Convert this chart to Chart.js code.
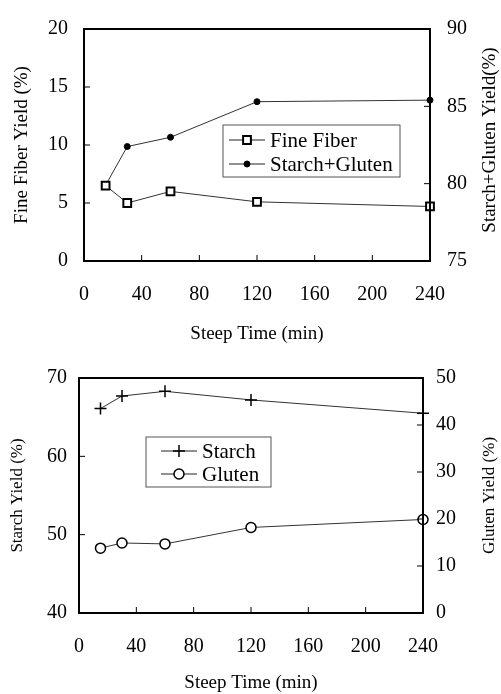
<!DOCTYPE html>
<html>
<head>
<meta charset="utf-8">
<script src="https://cdn.jsdelivr.net/npm/chart.js@4.4.0/dist/chart.umd.min.js"></script>
<style>
  body { margin: 0; background: white; }
  #wrap { position: relative; width: 501px; height: 694px; }
  #topchart { position: absolute; left: 0; top: 0; }
  #bottomchart { position: absolute; left: 0; top: 345px; }
</style>
</head>
<body>
<div id="wrap">
  <canvas id="topchart" width="501" height="345"></canvas>
  <canvas id="bottomchart" width="501" height="349"></canvas>
</div>
<script>
// data
const steepTimes = [15, 30, 60, 120, 240];
const fineFiber = [6.5, 5.0, 6.0, 5.1, 4.7];
const starchGluten = [79.9, 82.4, 83.0, 85.3, 85.4];
const starch = [66.1, 67.7, 68.3, 67.2, 65.5];
const gluten = [13.8, 14.9, 14.7, 18.2, 19.9];
const xTicks = [0, 40, 80, 120, 160, 200, 240];

const serif = "'Liberation Serif', 'Times New Roman', serif";
Chart.defaults.color = "#000";
Chart.defaults.font.family = serif;

function pts(ys) {
  return steepTimes.map((t, i) => ({ x: t, y: ys[i] }));
}

// frame around the plot + small inward tick marks
const framePlugin = {
  id: "frame",
  afterDatasetsDraw(chart) {
    const ctx = chart.ctx;
    const a = chart.chartArea;
    ctx.save();
    ctx.strokeStyle = "#000";
    ctx.lineWidth = 1;
    Object.values(chart.scales).forEach(s => {
      s.ticks.forEach(t => {
        if (t.value === s.min || t.value === s.max) return;
        const p = s.getPixelForValue(t.value);
        ctx.beginPath();
        if (s.position === "bottom") { ctx.moveTo(p, a.bottom); ctx.lineTo(p, a.bottom - 6); }
        if (s.position === "left") { ctx.moveTo(a.left, p); ctx.lineTo(a.left + 6, p); }
        if (s.position === "right") { ctx.moveTo(a.right, p); ctx.lineTo(a.right - 6, p); }
        ctx.stroke();
      });
    });
    ctx.lineWidth = 2;
    ctx.strokeRect(a.left, a.top, a.right - a.left, a.bottom - a.top);
    ctx.restore();
  }
};

// right axis title, reading bottom to top like the left one
const sideTitle = {
  id: "sideTitle",
  afterDraw(chart, args, opts) {
    const ctx = chart.ctx;
    const a = chart.chartArea;
    ctx.save();
    ctx.translate(opts.x, (a.top + a.bottom) / 2 + opts.dy);
    ctx.rotate(-Math.PI / 2);
    ctx.font = opts.size + "px " + serif;
    ctx.fillStyle = "#000";
    ctx.textAlign = "center";
    ctx.textBaseline = "middle";
    ctx.fillText(opts.text, 0, 0);
    ctx.restore();
  }
};

// legend box drawn inside the plot
const boxLegend = {
  id: "boxLegend",
  afterDraw(chart, args, opts) {
    const ctx = chart.ctx;
    ctx.save();
    ctx.strokeStyle = "#555";
    ctx.lineWidth = 1;
    ctx.strokeRect(opts.x, opts.y, opts.w, opts.h);
    ctx.font = opts.fontSize + "px " + serif;
    ctx.textBaseline = "middle";
    ctx.fillStyle = "#000";
    chart.data.datasets.forEach((ds, i) => {
      const cy = opts.y + opts.rowY[i];
      const lx = opts.x + opts.lineX;
      ctx.strokeStyle = "#222";
      ctx.lineWidth = 1;
      ctx.beginPath();
      ctx.moveTo(lx, cy);
      ctx.lineTo(lx + opts.lineW, cy);
      ctx.stroke();
      ctx.fillStyle = ds.pointBackgroundColor;
      ctx.strokeStyle = ds.pointBorderColor;
      ctx.lineWidth = ds.pointBorderWidth;
      Chart.helpers.drawPoint(ctx, { pointStyle: ds.pointStyle, radius: ds.pointRadius, borderWidth: ds.pointBorderWidth }, lx + opts.lineW / 2, cy);
      ctx.fillStyle = "#000";
      ctx.fillText(ds.label, opts.x + opts.textX, cy + 1);
    });
    ctx.restore();
  }
};

function xScale(labelPad, titlePad, h) {
  return {
    type: "linear",
    position: "bottom",
    min: 0,
    max: 240,
    afterBuildTicks: s => { s.ticks = xTicks.map(v => ({ value: v })); },
    ticks: { font: { size: 20 }, padding: labelPad, maxRotation: 0 },
    grid: { display: false, drawTicks: false },
    border: { display: false },
    title: { display: true, text: "Steep Time (min)", font: { size: 19 }, padding: { top: 0, bottom: titlePad } },
    afterFit: s => { s.height = h; }
  };
}

function yScale(pos, min, max, step, title, size, labelPad, titlePad, w) {
  return {
    position: pos,
    min: min,
    max: max,
    ticks: { stepSize: step, font: { size: 20 }, padding: labelPad },
    grid: { display: false, drawTicks: false },
    border: { display: false },
    title: { display: title !== "", text: title, font: { size: size }, padding: { top: titlePad, bottom: titlePad } },
    afterFit: s => { s.width = w; }
  };
}

new Chart(document.getElementById("topchart"), {
  type: "line",
  data: {
    datasets: [
      {
        label: "Fine Fiber",
        data: pts(fineFiber),
        yAxisID: "y",
        clip: false,
        borderColor: "#333",
        borderWidth: 1,
        pointStyle: "rect",
        pointRadius: 5.5,
        pointBorderWidth: 2,
        pointBackgroundColor: "#fff",
        pointBorderColor: "#000",
      },
      {
        label: "Starch+Gluten",
        data: pts(starchGluten),
        yAxisID: "y1",
        clip: false,
        borderColor: "#333",
        borderWidth: 1,
        pointStyle: "circle",
        pointRadius: 3,
        pointBorderWidth: 1,
        pointBackgroundColor: "#000",
        pointBorderColor: "#000",
      },
    ],
  },
  options: {
    responsive: false,
    animation: false,
    layout: { padding: { top: 23, left: 0, right: 0, bottom: 0 } },
    plugins: {
      legend: { display: false },
      tooltip: { enabled: false },
      boxLegend: { x: 223, y: 125, w: 177, h: 52, rowY: [15, 39], lineX: 6, lineW: 36, textX: 47, fontSize: 21 },
      sideTitle: { text: "Starch+Gluten Yield(%)", size: 19, x: 490, dy: -5 },
    },
    scales: {
      x: xScale(22, 0, 84),
      y: yScale("left", 0, 20, 5, "Fine Fiber Yield (%)", 19, 16, 11, 84),
      y1: yScale("right", 75, 90, 5, "", 19, 17, 0, 71),
    },
  },
  plugins: [framePlugin, boxLegend, sideTitle],
});

new Chart(document.getElementById("bottomchart"), {
  type: "line",
  data: {
    datasets: [
      {
        label: "Starch",
        data: pts(starch),
        yAxisID: "y",
        clip: false,
        borderColor: "#333",
        borderWidth: 1,
        pointStyle: "cross",
        pointRadius: 6,
        pointBorderWidth: 1.5,
        pointBackgroundColor: "#000",
        pointBorderColor: "#000",
      },
      {
        label: "Gluten",
        data: pts(gluten),
        yAxisID: "y1",
        clip: false,
        borderColor: "#333",
        borderWidth: 1,
        pointStyle: "circle",
        pointRadius: 5,
        pointBorderWidth: 1.5,
        pointBackgroundColor: "#fff",
        pointBorderColor: "#000",
      },
    ],
  },
  options: {
    responsive: false,
    animation: false,
    layout: { padding: { top: 33, left: 0, right: 0, bottom: 0 } },
    plugins: {
      legend: { display: false },
      tooltip: { enabled: false },
      boxLegend: { x: 146, y: 92, w: 125, h: 50, rowY: [14, 37], lineX: 15, lineW: 36, textX: 56, fontSize: 21 },
      sideTitle: { text: "Gluten Yield (%)", size: 17, x: 490, dy: 0 },
    },
    scales: {
      x: xScale(22, 0, 81),
      y: yScale("left", 40, 70, 10, "Starch Yield (%)", 17, 12, 7, 79),
      y1: yScale("right", 0, 50, 10, "", 17, 13, 1, 78),
    },
  },
  plugins: [framePlugin, boxLegend, sideTitle],
});
</script>
</body>
</html>
